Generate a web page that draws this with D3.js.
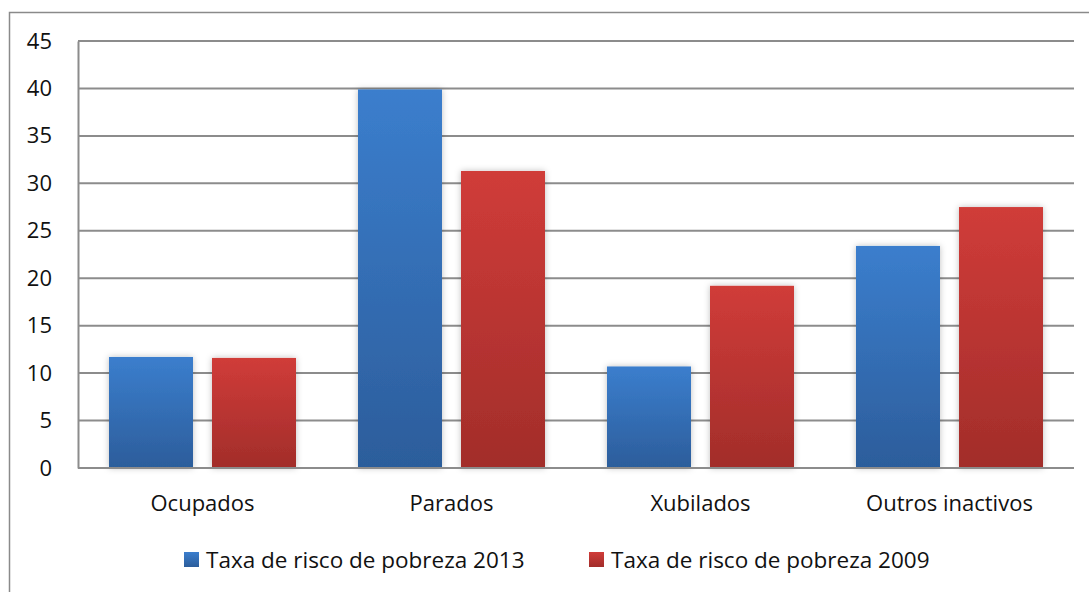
<!DOCTYPE html>
<html>
<head>
<meta charset="utf-8">
<script src="https://cdn.jsdelivr.net/npm/d3@7"></script>
<style>
  body { margin: 0; background: #fff; }
  text { font-family: "Open Sans", "Noto Sans", sans-serif; fill: #111; }
</style>
</head>
<body>
<div id="chart"></div>
<script>
// data
var categories = ["Ocupados", "Parados", "Xubilados", "Outros inactivos"];
var seriesNames = ["Taxa de risco de pobreza 2013", "Taxa de risco de pobreza 2009"];
var values2013 = [11.7, 39.9, 10.7, 23.4];
var values2009 = [11.6, 31.3, 19.2, 27.5];
var yTicks = [0, 5, 10, 15, 20, 25, 30, 35, 40, 45];

var width = 1089, height = 592;
var margin = { top: 41, left: 78, right: 15, bottom: 124 };

var svg = d3.select("#chart")
    .append("svg")
    .attr("width", width)
    .attr("height", height);

var defs = svg.append("defs");

// gradients for the bars
var grads = [
  { id: "g2013", top: "#3b7ecd", bottom: "#2c5d9b" },
  { id: "g2009", top: "#d03c39", bottom: "#a22d2a" }
];
grads.forEach(function(g) {
  var lg = defs.append("linearGradient")
      .attr("id", g.id)
      .attr("x1", 0).attr("y1", 0).attr("x2", 0).attr("y2", 1);
  lg.append("stop").attr("offset", "0%").attr("stop-color", g.top);
  lg.append("stop").attr("offset", "100%").attr("stop-color", g.bottom);
});

var shadow = defs.append("filter").attr("id", "shadow")
    .attr("x", "-20%").attr("y", "-10%").attr("width", "140%").attr("height", "120%");
shadow.append("feDropShadow")
    .attr("dx", 0).attr("dy", 0).attr("stdDeviation", 3)
    .attr("flood-color", "#000").attr("flood-opacity", 0.25);

// outer border
svg.append("rect")
    .attr("x", 9.5).attr("y", 12.5)
    .attr("width", width).attr("height", height)
    .attr("fill", "none")
    .attr("stroke", "#8a8a8a")
    .attr("stroke-width", 1.5);

var plotW = width - margin.left - margin.right,
    plotH = height - margin.top - margin.bottom;

var g = svg.append("g").attr("transform", "translate(" + margin.left + "," + margin.top + ")");

var y = d3.scaleLinear().domain([0, 45]).range([plotH, 0]);

var x0 = d3.scaleBand().domain(categories).range([0, plotW]).padding(0);
var x1 = d3.scaleBand().domain(seriesNames).range([0, x0.bandwidth()])
    .paddingInner(0.1845).paddingOuter(0.301);

// gridlines
g.selectAll(".grid")
    .data(yTicks)
    .enter().append("line")
    .attr("class", "grid")
    .attr("x1", 0).attr("x2", plotW)
    .attr("y1", function(d) { return y(d); })
    .attr("y2", function(d) { return y(d); })
    .attr("stroke", "#8c8c8c")
    .attr("stroke-width", 2);

// left axis
var yAxis = g.append("g")
    .call(d3.axisLeft(y).tickValues(yTicks).tickSize(0).tickPadding(26));
yAxis.select(".domain").attr("stroke", "#8c8c8c").attr("stroke-width", 2);
yAxis.selectAll("text")
    .style("font-family", "'Open Sans', sans-serif")
    .style("font-size", "22px")
    .attr("fill", "#111");

// bars
var data = categories.map(function(c, i) {
  return [
    { cat: c, name: seriesNames[0], value: values2013[i], fill: "url(#g2013)" },
    { cat: c, name: seriesNames[1], value: values2009[i], fill: "url(#g2009)" }
  ];
});

g.selectAll(".cat")
    .data(data)
    .enter().append("g")
    .attr("class", "cat")
    .attr("transform", function(d, i) { return "translate(" + x0(categories[i]) + ",0)"; })
    .selectAll("rect")
    .data(function(d) { return d; })
    .enter().append("rect")
    .attr("x", function(d) { return x1(d.name); })
    .attr("width", x1.bandwidth())
    .attr("y", function(d) { return y(d.value); })
    .attr("height", function(d) { return plotH - y(d.value); })
    .attr("fill", function(d) { return d.fill; })
    .attr("filter", "url(#shadow)");

// bottom axis line
g.append("line")
    .attr("x1", 0).attr("x2", plotW)
    .attr("y1", plotH).attr("y2", plotH)
    .attr("stroke", "#8c8c8c")
    .attr("stroke-width", 2);

// category labels
g.selectAll(".catlabel")
    .data(categories)
    .enter().append("text")
    .attr("class", "catlabel")
    .attr("x", function(d) { return x0(d) + x0.bandwidth() / 2; })
    .attr("y", plotH + 43)
    .attr("text-anchor", "middle")
    .style("font-size", "22px")
    .text(function(d) { return d; });

// legend
var legendX = [184, 589];
var legend = svg.selectAll(".legend")
    .data(seriesNames)
    .enter().append("g")
    .attr("class", "legend")
    .attr("transform", function(d, i) { return "translate(" + legendX[i] + ",552)"; });

legend.append("rect")
    .attr("width", 15).attr("height", 15)
    .attr("fill", function(d, i) { return i === 0 ? "url(#g2013)" : "url(#g2009)"; });

legend.append("text")
    .attr("x", 22)
    .attr("y", 16)
    .style("font-size", "22.5px")
    .text(function(d) { return d; });
</script>
</body>
</html>
